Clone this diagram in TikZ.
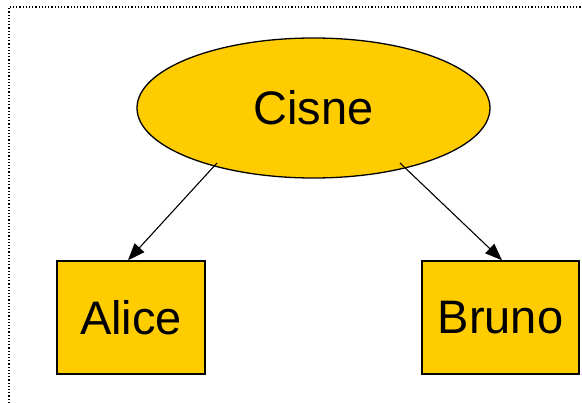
\documentclass[tikz,border=0pt]{standalone}
\usepackage{fontspec}
\setmainfont{Liberation Sans}
\usetikzlibrary{shapes.geometric,arrows.meta,calc}
\definecolor{gold}{HTML}{FFCC00}
\begin{document}
\begin{tikzpicture}[x=1pt,y=-1pt,
  blob/.style={ellipse,draw=black,line width=1.3pt,fill=gold,minimum width=353pt,minimum height=140pt,inner sep=0pt},
  leaf/.style={rectangle,draw=black,line width=1.5pt,fill=gold,inner sep=0pt},
  link/.style={line width=1.1pt,-{Triangle[length=17pt,width=13pt]}},
  every node/.style={font=\fontsize{47}{50}\selectfont}]
\useasboundingbox (0,0) rectangle (582,403);
% frame: only the top and left edges fall inside the page
\draw[dotted,line width=1.2pt] (9,403) -- (9,7) -- (582,7);
\node[blob] (cisne) at (313.5,108) {Cisne};
\node[leaf,minimum width=148pt,minimum height=113pt] (alice) at (131,317.5) {Alice};
\node[leaf,minimum width=157pt,minimum height=113pt] (bruno) at (500.5,317.5) {Bruno};
\coordinate (sl) at (217,163);
\coordinate (sr) at (400,163);
\draw[link] (sl) -- ($(alice.north)+(-3,0)$);
\draw[link] (sr) -- ($(bruno.north)+(1.5,0)$);
\end{tikzpicture}
\end{document}
